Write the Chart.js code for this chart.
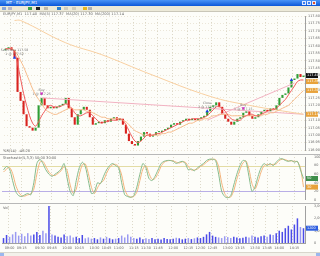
<!DOCTYPE html>
<html>
<head>
<meta charset="utf-8">
<script src="https://cdn.jsdelivr.net/npm/chart.js@4.4.1/dist/chart.umd.min.js"></script>
<style>
  html, body { margin: 0; padding: 0; background: #ffffff; }
  #frame { position: relative; width: 320px; height: 256px; overflow: hidden; background: #fdfdf9; font-family: 'DejaVu Sans', sans-serif; }
  #titlebar { position: absolute; left: 0; top: 0; width: 320px; height: 6px; background: linear-gradient(#4a94f7, #0b56d8); }
  #titlebar .txt { position: absolute; left: 6px; top: 0; font-size: 4px; line-height: 6px; color: #fff; }
  .btn { position: absolute; top: 1px; width: 4px; height: 4px; background: #3c7ff0; border: 1px solid #dfe8ff; box-sizing: border-box; }
  #toolbar { position: absolute; left: 0; top: 6px; width: 320px; height: 6px; background: #ece9d8; border-bottom: 1px solid #c9c6b8; box-sizing: border-box; }
  .ico { position: absolute; top: 1px; width: 4px; height: 3px; }
  canvas { position: absolute; left: 0; }
  #scroll { position: absolute; left: 0; top: 252px; width: 320px; height: 4px; background: #f3f1ea; border-top: 1px solid #d8d6cc; box-sizing: border-box; }
  #scroll .b { position: absolute; top: 0; width: 4px; height: 3px; background: #9bb7ee; }
</style>
</head>
<body>
<div id="frame">
  <div id="titlebar">
    <span class="txt">MT - EURJPY,M1</span>
    <div class="btn" style="left:302px;"></div>
    <div class="btn" style="left:307px;"></div>
    <div class="btn" style="left:312px;background:#e0502a;"></div>
  </div>
  <div id="toolbar">
    <div class="ico" style="left:2px;background:#8aa6d8;"></div>
    <div class="ico" style="left:8px;background:#b7b7c8;"></div>
    <div class="ico" style="left:28px;background:#3ea04a;"></div>
    <div class="ico" style="left:36px;background:#222;"></div>
    <div class="ico" style="left:44px;background:#c0b8a8;"></div>
    <div class="ico" style="left:57px;background:#2a7fd0;"></div>
    <div class="ico" style="left:64px;background:#cfcbbd;"></div>
    <div class="ico" style="left:72px;background:#cfcbbd;"></div>
    <div class="ico" style="left:83px;background:#e8b820;"></div>
    <div class="ico" style="left:88px;background:#b0b0b0;"></div>
  </div>
  <canvas id="price" width="320" height="142" style="top:12px;"></canvas>
  <canvas id="stoch" width="320" height="49" style="top:154px;"></canvas>
  <canvas id="vol" width="320" height="49" style="top:203px;"></canvas>
  <div id="scroll">
    <div class="b" style="left:0;"></div>
    <div class="b" style="left:316px;"></div>
  </div>
</div>
<script>
// price bars (close of each bar, open = previous close)
const firstOpen = 117.57;
const close = [
  117.58, 117.59, 117.57, 117.52, 117.29, 117.23, 117.14, 117.06, 117.05, 117.03,
  117.05, 117.20, 117.25, 117.20, 117.18, 117.19, 117.18, 117.19, 117.20, 117.21,
  117.25, 117.18, 117.12, 117.07, 117.14, 117.17, 117.19, 117.17, 117.12, 117.07,
  117.08, 117.09, 117.08, 117.10, 117.09, 117.11, 117.12, 117.10, 117.11, 117.07,
  117.01, 116.96, 116.94, 116.93, 116.96, 116.99, 117.02, 117.01, 116.99, 117.00,
  117.02, 117.02, 117.03, 117.04, 117.05, 117.07, 117.08, 117.07, 117.09, 117.10,
  117.11, 117.10, 117.11, 117.10, 117.11, 117.12, 117.13, 117.16, 117.19, 117.20,
  117.22, 117.19, 117.14, 117.11, 117.09, 117.07, 117.09, 117.11, 117.12, 117.15,
  117.16, 117.13, 117.11, 117.12, 117.14, 117.16, 117.17, 117.16, 117.18, 117.17,
  117.20, 117.25, 117.27, 117.28, 117.32, 117.37, 117.38, 117.41, 117.39, 117.40
];
const fastMA = [
  117.58, 117.58, 117.58, 117.56, 117.48, 117.38, 117.28, 117.20, 117.13, 117.08,
  117.06, 117.09, 117.13, 117.16, 117.19, 117.20, 117.19, 117.19, 117.19, 117.20,
  117.21, 117.20, 117.18, 117.15, 117.13, 117.13, 117.14, 117.15, 117.15, 117.13,
  117.11, 117.09, 117.08, 117.09, 117.09, 117.10, 117.10, 117.10, 117.11, 117.10,
  117.07, 117.03, 116.99, 116.96, 116.95, 116.96, 116.98, 117.00, 117.00, 117.00,
  117.01, 117.01, 117.02, 117.03, 117.04, 117.05, 117.06, 117.07, 117.08, 117.09,
  117.10, 117.10, 117.11, 117.11, 117.11, 117.11, 117.12, 117.13, 117.15, 117.17,
  117.19, 117.19, 117.18, 117.16, 117.13, 117.11, 117.10, 117.10, 117.10, 117.12,
  117.13, 117.14, 117.14, 117.13, 117.13, 117.14, 117.15, 117.16, 117.17, 117.17,
  117.18, 117.20, 117.22, 117.24, 117.27, 117.30, 117.33, 117.36, 117.37, 117.37
];
const slowMA = [
  117.58, 117.58, 117.58, 117.57, 117.54, 117.50, 117.46, 117.41, 117.36, 117.31,
  117.27, 117.24, 117.21, 117.18, 117.16, 117.15, 117.14, 117.14, 117.15, 117.16,
  117.17, 117.18, 117.18, 117.17, 117.17, 117.17, 117.17, 117.16, 117.16, 117.15,
  117.14, 117.13, 117.12, 117.12, 117.11, 117.11, 117.11, 117.11, 117.11, 117.10,
  117.09, 117.07, 117.05, 117.03, 117.02, 117.01, 117.00, 117.00, 117.00, 117.00,
  117.00, 117.00, 117.01, 117.01, 117.02, 117.02, 117.03, 117.04, 117.05, 117.06,
  117.07, 117.08, 117.08, 117.09, 117.10, 117.10, 117.11, 117.11, 117.12, 117.13,
  117.13, 117.14, 117.14, 117.14, 117.14, 117.13, 117.13, 117.13, 117.13, 117.13,
  117.13, 117.13, 117.13, 117.13, 117.13, 117.13, 117.14, 117.14, 117.15, 117.15,
  117.16, 117.17, 117.18, 117.19, 117.20, 117.22, 117.24, 117.26, 117.28, 117.30
];
// long average, only a few read points
const longIdx = [3, 5, 20, 32, 48, 68, 81, 99];
const longVal = [117.77, 117.77, 117.62, 117.54, 117.41, 117.26, 117.20, 117.14];
// trend lines (start, end)
const trendA = [{ x: 12, y: 117.25 }, { x: 99, y: 117.14 }];
const trendB = [{ x: 67, y: 117.10 }, { x: 96, y: 117.35 }];
// trade arrows
const buyIdx = [12, 79];
const sellIdx = [3, 67, 95];
const tradeNotes = [
  { i: 3, lines: ['Sell/Close 117.58', '1 @ 117.52'] },
  { i: 12, lines: ['Buy', '1 @ 117.25'] },
  { i: 67, lines: ['Close', '1 @ 117.13'] },
  { i: 79, lines: ['Buy', '1 @ 117.15'] }
];
// stochastic
const stochK = [
  70, 78, 72, 45, 20, 10, 8, 12, 15, 12,
  40, 85, 95, 85, 70, 60, 55, 60, 65, 72,
  85, 50, 20, 10, 45, 75, 88, 78, 45, 15,
  18, 40, 38, 55, 70, 80, 85, 80, 75, 40,
  12, 8, 6, 10, 30, 60, 85, 75, 50, 45,
  55, 70, 85, 90, 92, 92, 90, 85, 88, 90,
  85, 70, 72, 68, 75, 80, 85, 92, 95, 95,
  92, 60, 20, 8, 5, 10, 35, 60, 80, 92,
  90, 55, 20, 30, 55, 75, 85, 80, 85, 80,
  88, 95, 96, 92, 90, 92, 88, 90, 70, 50
];
const stochD = [
  65, 72, 76, 62, 35, 18, 10, 9, 12, 14,
  25, 60, 88, 90, 78, 65, 58, 57, 62, 68,
  78, 68, 35, 15, 25, 58, 82, 84, 62, 30,
  15, 28, 40, 45, 62, 75, 82, 83, 78, 58,
  25, 10, 7, 8, 18, 45, 72, 80, 62, 48,
  50, 62, 78, 88, 91, 92, 91, 88, 86, 89,
  88, 78, 70, 70, 72, 78, 82, 88, 93, 95,
  94, 78, 40, 15, 6, 7, 22, 48, 70, 86,
  91, 72, 38, 25, 42, 65, 80, 83, 82, 83,
  84, 92, 95, 94, 91, 91, 90, 89, 75, 30
];
const stochLevels = [80, 20];
// volume
const volume = [
  400, 650, 500, 700, 900, 600, 750, 550, 800, 600,
  700, 900, 650, 1000, 800, 3000, 700, 600, 500, 450,
  700, 550, 600, 450, 500, 400, 650, 380, 450, 350,
  400, 300, 450, 350, 500, 380, 300, 350, 400, 600,
  450, 700, 500, 400, 350, 450, 300, 380, 320, 400,
  300, 350, 280, 400, 330, 300, 350, 420, 380, 300,
  350, 400, 320, 380, 450, 400, 500, 700, 900, 600,
  500, 450, 400, 550, 480, 400, 500, 450, 380, 420,
  500, 450, 600, 500, 450, 550, 600, 500, 700, 650,
  800, 1000, 900, 1200, 1400, 1100, 1500, 2000, 1300, 1200
];
// time axis
const tickIdx = [2, 6, 12, 16, 21, 25, 30, 34, 38, 43, 47, 51, 56, 61, 65, 69, 74, 78, 83, 87, 91, 96];
const timeLabels = ['09:00', '09:15', '09:30', '09:45', '10:00', '10:15', '10:30', '10:45', '11:00', '11:15', '11:30',
  '11:45', '12:00', '12:15', '12:30', '12:45', '13:00', '13:15', '13:30', '13:45', '14:00', '14:15'];

const labels = close.map((_, i) => i);
const opens = close.map((c, i) => (i === 0 ? firstOpen : close[i - 1]));
const bodies = close.map((c, i) => [opens[i], c]);
const bodyColors = close.map((c, i) => (c >= opens[i] ? '#2f9e35' : '#d9231f'));
const last = arr => arr[arr.length - 1];

const tinyFont = { family: 'DejaVu Sans', size: 3.4 };
const vGrid = ctx => (tickIdx.includes(ctx.index) ? '#dcd8c8' : 'rgba(0,0,0,0)');

function fixedWidth(s) { s.width = 15; }

// small texts drawn inside a panel
function panelText(items) {
  return {
    id: 'panelText',
    afterDraw(chart) {
      const c = chart.ctx;
      c.save();
      c.font = '3.6px "DejaVu Sans"';
      c.fillStyle = '#666';
      c.textBaseline = 'top';
      items.forEach(t => c.fillText(t.text, t.x, t.y));
      c.restore();
    }
  };
}

// coloured value boxes on the right axis
function axisTags(tags, digits) {
  return {
    id: 'axisTags',
    afterDraw(chart) {
      const c = chart.ctx;
      const y = chart.scales.y;
      const x0 = chart.chartArea.right + 1;
      c.save();
      c.font = '3.4px "DejaVu Sans"';
      c.textBaseline = 'middle';
      tags.forEach(t => {
        const py = y.getPixelForValue(t.value);
        c.fillStyle = t.bg;
        c.fillRect(x0, py - 2.5, 12, 5);
        c.fillStyle = t.fg;
        c.fillText(t.value.toFixed(digits), x0 + 1, py);
      });
      c.restore();
    }
  };
}

const tradeText = {
  id: 'tradeText',
  afterDatasetsDraw(chart) {
    const c = chart.ctx;
    const xs = chart.scales.x, ys = chart.scales.y;
    c.save();
    c.font = '3.2px "DejaVu Sans"';
    c.fillStyle = '#777';
    c.textAlign = 'center';
    tradeNotes.forEach(n => {
      const px = xs.getPixelForValue(n.i);
      const py = ys.getPixelForValue(close[n.i]);
      n.lines.forEach((l, k) => c.fillText(l, px, py - 7 + k * 4));
    });
    c.restore();
  }
};

const levelLines = {
  id: 'levelLines',
  beforeDatasetsDraw(chart) {
    const c = chart.ctx;
    const y = chart.scales.y;
    const a = chart.chartArea;
    const colors = ['#e3dca4', '#b9aee6'];
    c.save();
    stochLevels.forEach((v, k) => {
      const py = Math.round(y.getPixelForValue(v)) + 0.5;
      c.strokeStyle = colors[k];
      c.lineWidth = 1;
      c.beginPath();
      c.moveTo(a.left, py);
      c.lineTo(a.right, py);
      c.stroke();
    });
    c.restore();
  }
};

const topRule = {
  id: 'topRule',
  afterDraw(chart) {
    const c = chart.ctx;
    c.save();
    c.strokeStyle = '#b8b8b8';
    c.beginPath();
    c.moveTo(0, 0.5);
    c.lineTo(320, 0.5);
    c.stroke();
    c.restore();
  }
};

const hiddenX = {
  offset: true,
  ticks: { display: false },
  grid: { color: vGrid, drawTicks: false },
  border: { display: false, dash: [1, 2] },
  afterFit: s => { s.height = 0; }
};

new Chart(document.getElementById('price'), {
  type: 'bar',
  data: {
    labels: labels,
    datasets: [
      { type: 'line', data: sellIdx.map(i => ({ x: i, y: close[i] })), showLine: false,
        pointStyle: 'triangle', pointRadius: 2, pointBackgroundColor: '#1d3fe0', pointBorderWidth: 0, order: 0 },
      { type: 'line', data: buyIdx.map(i => ({ x: i, y: close[i] + 0.03 })), showLine: false,
        pointStyle: 'triangle', rotation: 180, pointRadius: 2, pointBackgroundColor: '#e020d0', pointBorderWidth: 0, order: 0 },
      { type: 'line', data: fastMA, borderColor: '#f05a5a', borderWidth: 1, pointRadius: 0, tension: 0.3, order: 1 },
      { type: 'line', data: slowMA, borderColor: '#f6bb8a', borderWidth: 1, pointRadius: 0, tension: 0.3, order: 2 },
      { type: 'line', data: longIdx.map((i, k) => ({ x: i, y: longVal[k] })), borderColor: '#f8cfa0',
        borderWidth: 1, pointRadius: 0, tension: 0.4, order: 3 },
      { type: 'line', data: trendA, borderColor: '#f2b2c2', borderWidth: 1, pointRadius: 0, order: 3 },
      { type: 'line', data: trendB, borderColor: '#f2b2c2', borderWidth: 1, pointRadius: 0, order: 3 },
      { data: bodies, backgroundColor: bodyColors, barPercentage: 0.7, categoryPercentage: 1,
        minBarLength: 1, order: 5 }
    ]
  },
  options: {
    responsive: false,
    animation: false,
    layout: { padding: { left: 2, top: 0, bottom: 0, right: 0 } },
    plugins: { legend: { display: false }, tooltip: { enabled: false } },
    scales: {
      x: hiddenX,
      y: {
        position: 'right',
        min: 116.90,
        max: 117.80,
        ticks: { stepSize: 0.05, font: tinyFont, color: '#666', padding: 1,
          callback: v => v.toFixed(2) },
        grid: { color: '#ebe6d8', tickLength: 2 },
        border: { color: '#a0a0a0', dash: [1, 2] },
        afterFit: fixedWidth
      }
    }
  },
  plugins: [
    tradeText,
    panelText([
      { text: 'EURJPY,M1  ' + close[99].toFixed(2) + '  MA(5) ' + last(fastMA).toFixed(2) +
        '  MA(20) ' + last(slowMA).toFixed(2) + '  MA(200) ' + last(longVal).toFixed(2), x: 3, y: 0.5 },
      { text: '%R(14)  -48.20', x: 3, y: 137.5 }
    ]),
    axisTags([
      { value: last(close), bg: '#111', fg: '#fff' },
      { value: last(fastMA) - 0.01, bg: '#e8a23a', fg: '#fff' },
      { value: last(slowMA), bg: '#e8a23a', fg: '#fff' },
      { value: last(longVal), bg: '#e8a23a', fg: '#fff' }
    ], 2)
  ]
});

new Chart(document.getElementById('stoch'), {
  type: 'line',
  data: {
    labels: labels,
    datasets: [
      { data: stochK, borderColor: '#86bb8c', borderWidth: 1, pointRadius: 0, tension: 0.25 },
      { data: stochD, borderColor: '#f4b47c', borderWidth: 1, pointRadius: 0, tension: 0.25 }
    ]
  },
  options: {
    responsive: false,
    animation: false,
    layout: { padding: { left: 2, top: 2.6, bottom: 1.4, right: 0 } },
    plugins: { legend: { display: false }, tooltip: { enabled: false } },
    scales: {
      x: hiddenX,
      y: {
        position: 'right',
        min: 0,
        max: 100,
        ticks: { stepSize: 20, font: tinyFont, color: '#666', padding: 1 },
        grid: { display: false },
        border: { color: '#a0a0a0' },
        afterFit: fixedWidth
      }
    }
  },
  plugins: [
    levelLines,
    topRule,
    panelText([{ text: 'Stochastic(5,3,3) ' + last(stochK).toFixed(2) + ' ' + last(stochD).toFixed(2), x: 3, y: 2.5 }]),
    axisTags([
      { value: last(stochK), bg: '#3f8f4a', fg: '#fff' },
      { value: last(stochD), bg: '#e8a23a', fg: '#fff' }
    ], 0)
  ]
});

new Chart(document.getElementById('vol'), {
  type: 'bar',
  data: {
    labels: labels,
    datasets: [
      { data: volume, backgroundColor: close.map((c, i) => (c >= opens[i] ? '#4b4be8' : '#9a9af2')),
        barPercentage: 0.5, categoryPercentage: 1 }
    ]
  },
  options: {
    responsive: false,
    animation: false,
    layout: { padding: { left: 2, top: 2, bottom: 0, right: 0 } },
    plugins: { legend: { display: false }, tooltip: { enabled: false } },
    scales: {
      x: {
        ticks: {
          autoSkip: false, maxRotation: 0, font: tinyFont, color: '#666', padding: 1,
          callback: (v, i) => { const k = tickIdx.indexOf(i); return k >= 0 ? timeLabels[k] : ''; }
        },
        grid: { color: vGrid, tickLength: 2 },
        border: { color: '#a0a0a0', dash: [1, 2] },
        afterFit: s => { s.height = 9; }
      },
      y: {
        position: 'right',
        min: 0,
        max: 3000,
        ticks: { stepSize: 500, font: tinyFont, color: '#666', padding: 1 },
        grid: { display: false },
        border: { color: '#a0a0a0' },
        afterFit: fixedWidth
      }
    }
  },
  plugins: [
    topRule,
    panelText([{ text: 'Vol', x: 3, y: 3 }]),
    axisTags([{ value: last(volume), bg: '#2f5fe0', fg: '#fff' }], 0)
  ]
});
</script>
</body>
</html>
